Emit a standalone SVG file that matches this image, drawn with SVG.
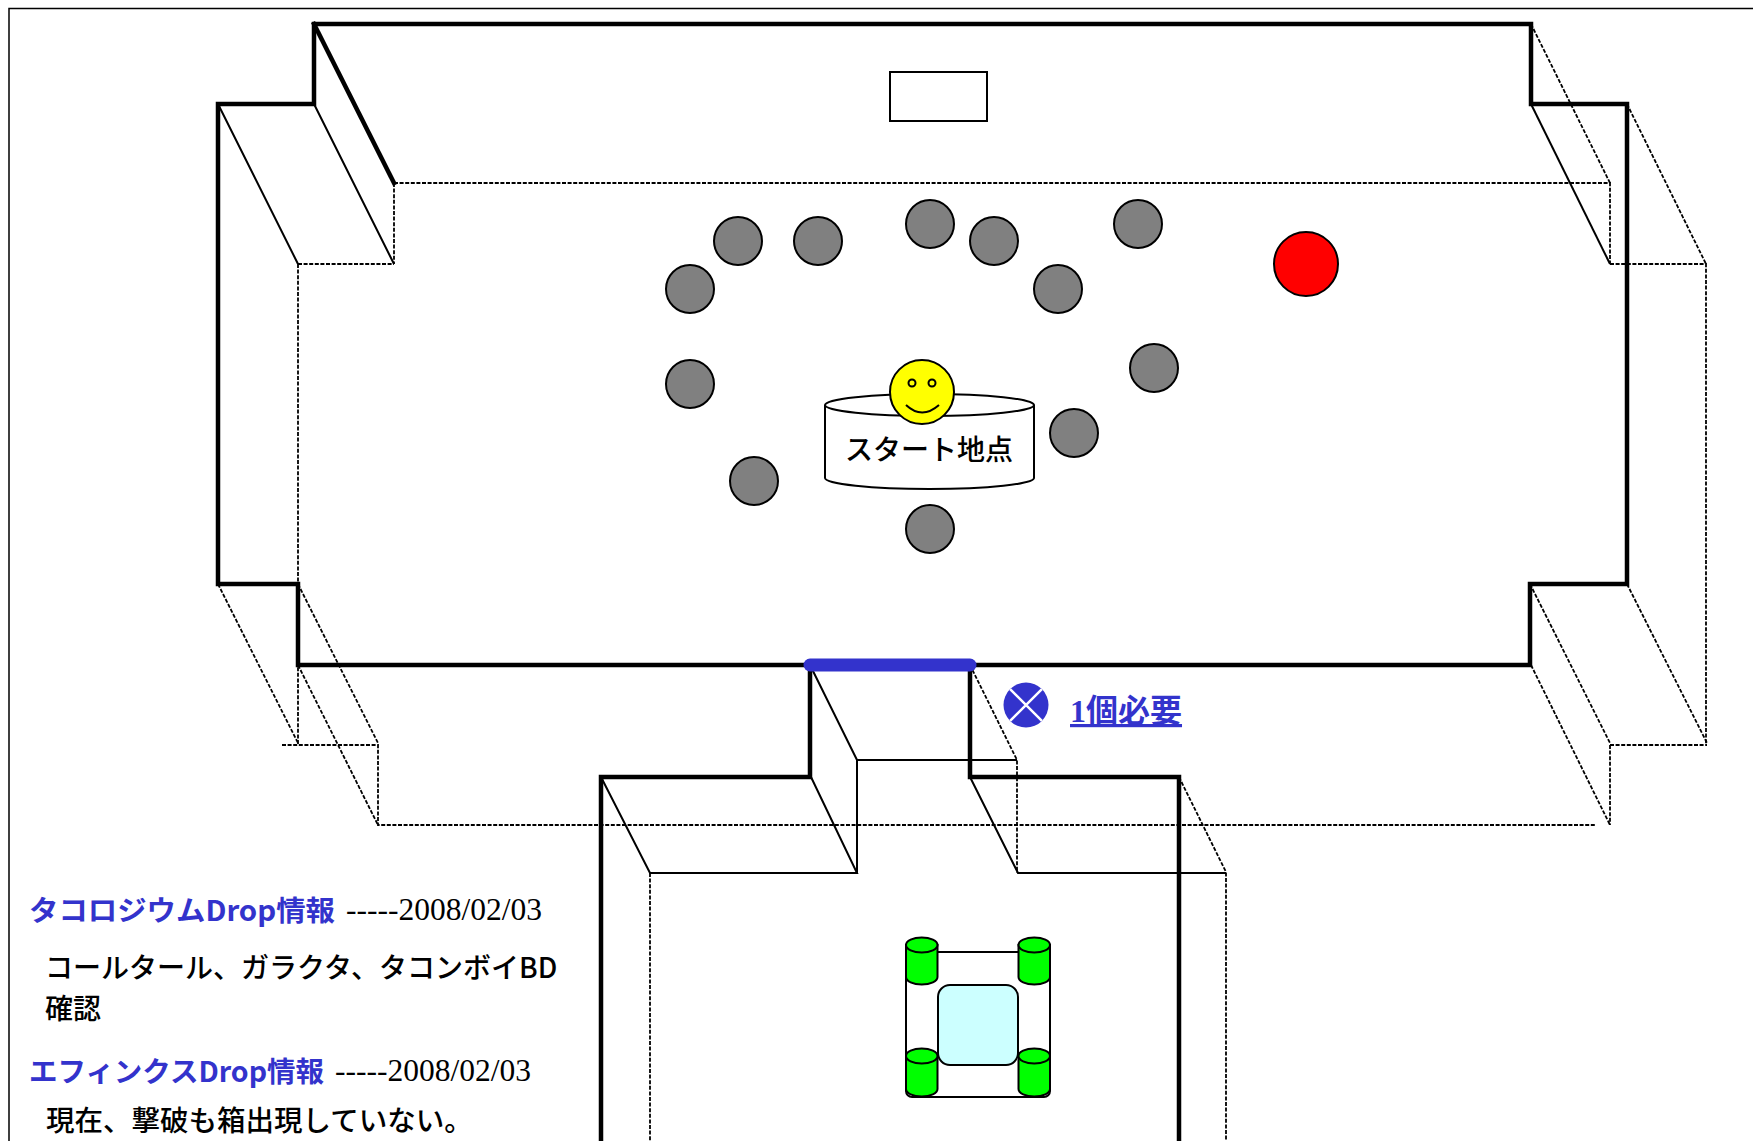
<svg xmlns="http://www.w3.org/2000/svg" width="1753" height="1141" viewBox="0 0 1753 1141">
<style>
.wall{stroke:#000;stroke-width:4.5;fill:none;stroke-linejoin:miter;stroke-linecap:square}
.thin{stroke:#000;stroke-width:2;fill:none}
.dash{stroke:#000;stroke-width:1.8;fill:none;stroke-dasharray:4 1.6}
.rock{fill:#808080;stroke:#000;stroke-width:2}
.cjk{font-family:"Noto Sans CJK JP","Noto Sans",sans-serif}
.head{font-family:"Noto Sans CJK JP","Noto Sans",sans-serif;font-weight:700;fill:#3333CC}
.date{font-family:"Liberation Serif","Noto Sans CJK JP",serif;fill:#000}
.wheel{fill:#00FF00;stroke:#000;stroke-width:2}
</style>
<rect width="1753" height="1141" fill="#fff"/>
<rect x="9" y="8.5" width="1800" height="1200" fill="none" stroke="#000" stroke-width="1.5"/>
<g id="room">
  <g id="room-hidden">
    <path class="dash" d="M394,183 H1610 V264 M298,264 V745 M394,183 V264 M298,264 H394"/>
    <path class="dash" d="M1531,24 L1610,183 M1610,264 H1706 V745 M1627,104 L1706,264"/>
    <path class="dash" d="M218,584 L298,743 M298,584 L378,743 M298,665 L378,825 M282,745 H378 V825 H1595"/>
    <path class="dash" d="M1530,584 L1610,743 M1627,584 L1707,743 M1531,665 L1610,825 M1610,745 H1707 M1610,745 V825"/>
  </g>
  <g id="room-edges">
    <path class="thin" d="M218,104 L298,264 M314,104 L394,264"/>
    <path class="thin" d="M1531,104 L1610,264"/>
  </g>
  <path class="wall" d="M314,24 H1531 V104 H1627 V584 H1530 V665 H298 V584 H218 V104 H314 Z"/>
  <path class="wall" d="M314,24 L394,183"/>
  <rect id="altar" x="890" y="72" width="97" height="49" fill="#fff" stroke="#000" stroke-width="2"/>
</g>
<g id="corridor">
  <path class="dash" d="M970,665 L1017,760 V873 M1179,777 L1226,872 V1150 M650,873 V1150"/>
  <path class="thin" d="M810,665 L857,760 H1017 M857,760 V873 M601,777 L650,873 H857 L811,777 M970,777 L1018,873 H1226"/>
  <path class="wall" d="M601,1160 V777 H810 V665 M970,665 V777 H1179 V1160"/>
</g>
<g id="door">
  <line x1="810" y1="665" x2="970" y2="665" stroke="#3333CC" stroke-width="13" stroke-linecap="round"/>
</g>
<g id="key-note">
  <circle cx="1026" cy="705" r="22.5" fill="#3333CC"/>
  <path d="M1010.1,689.1 L1041.9,720.9 M1041.9,689.1 L1010.1,720.9" stroke="#fff" stroke-width="2.5"/>
  <text x="1070" y="722" font-family="Liberation Serif,Noto Sans CJK JP,serif" font-weight="700" font-size="32" fill="#3333CC" text-decoration="underline">1個必要</text>
</g>
<g id="rocks">
  <circle class="rock" cx="738" cy="241" r="24"/>
  <circle class="rock" cx="818" cy="241" r="24"/>
  <circle class="rock" cx="930" cy="224" r="24"/>
  <circle class="rock" cx="994" cy="241" r="24"/>
  <circle class="rock" cx="1138" cy="224" r="24"/>
  <circle class="rock" cx="690" cy="289" r="24"/>
  <circle class="rock" cx="1058" cy="289" r="24"/>
  <circle class="rock" cx="690" cy="384" r="24"/>
  <circle class="rock" cx="1154" cy="368" r="24"/>
  <circle class="rock" cx="754" cy="481" r="24"/>
  <circle class="rock" cx="1074" cy="433" r="24"/>
  <circle class="rock" cx="930" cy="529" r="24"/>
</g>
<g id="boss">
  <circle cx="1306" cy="264" r="32" fill="#FF0000" stroke="#000" stroke-width="2"/>
</g>
<g id="start">
  <path d="M825,405 V478 A104.5,11 0 0 0 1034,478 V405" fill="#fff" stroke="#000" stroke-width="2"/>
  <ellipse cx="929.5" cy="405" rx="104.5" ry="11" fill="#fff" stroke="#000" stroke-width="2"/>
  <text x="929" y="460" class="cjk" font-size="28" font-weight="500" text-anchor="middle" fill="#000">スタート地点</text>
</g>
<g id="player">
  <circle cx="922" cy="392" r="32" fill="#FFFF00" stroke="#000" stroke-width="2"/>
  <circle cx="912" cy="383" r="3.5" fill="none" stroke="#000" stroke-width="2"/>
  <circle cx="932" cy="383" r="3.5" fill="none" stroke="#000" stroke-width="2"/>
  <path d="M906,405 Q922,420 939,405" fill="none" stroke="#000" stroke-width="2"/>
</g>
<g id="vehicle">
  <rect x="906" y="952" width="144" height="145" rx="6" fill="#fff" stroke="#000" stroke-width="2"/>
  <rect x="938" y="985" width="80" height="80" rx="12" fill="#CCFFFF" stroke="#000" stroke-width="2"/>
  <g id="wheel-tl">
    <path class="wheel" d="M906,945 V977 A15.75,7.5 0 0 0 937.5,977 V945 Z"/>
    <ellipse class="wheel" cx="921.75" cy="945" rx="15.75" ry="7.5"/>
  </g>
  <g id="wheel-tr">
    <path class="wheel" d="M1018.5,945 V977 A15.75,7.5 0 0 0 1050,977 V945 Z"/>
    <ellipse class="wheel" cx="1034.25" cy="945" rx="15.75" ry="7.5"/>
  </g>
  <g id="wheel-bl">
    <path class="wheel" d="M906,1056 V1089 A15.75,7.5 0 0 0 937.5,1089 V1056 Z"/>
    <ellipse class="wheel" cx="921.75" cy="1056" rx="15.75" ry="7.5"/>
  </g>
  <g id="wheel-br">
    <path class="wheel" d="M1018.5,1056 V1089 A15.75,7.5 0 0 0 1050,1089 V1056 Z"/>
    <ellipse class="wheel" cx="1034.25" cy="1056" rx="15.75" ry="7.5"/>
  </g>
</g>
<g id="notes">
  <text x="29" y="921" class="head" font-size="28" textLength="306" lengthAdjust="spacingAndGlyphs">タコロジウムDrop情報</text>
  <text x="346" y="920" class="date" font-size="31.5">-----2008/02/03</text>
  <text x="45" y="978" class="cjk" font-size="28" font-weight="500" fill="#000">コールタール、ガラクタ、タコンボイBD</text>
  <text x="45" y="1019" class="cjk" font-size="28" font-weight="500" fill="#000">確認</text>
  <text x="29" y="1082" class="head" font-size="28" textLength="295" lengthAdjust="spacingAndGlyphs">エフィンクスDrop情報</text>
  <text x="335" y="1081" class="date" font-size="31.5">-----2008/02/03</text>
  <text x="46" y="1131" class="cjk" font-size="28.5" font-weight="500" fill="#000">現在、撃破も箱出現していない。</text>
</g>
</svg>
